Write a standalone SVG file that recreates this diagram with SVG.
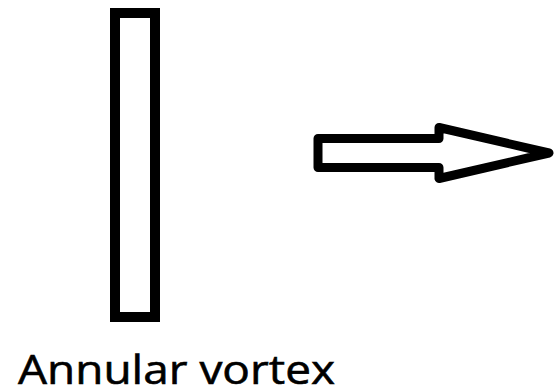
<svg xmlns="http://www.w3.org/2000/svg" width="556" height="391" viewBox="0 0 556 391">
<style>
.sh{fill:#fff;stroke:#000;stroke-width:10;stroke-linejoin:round}
.lbl{font-family:"Open Sans","Liberation Sans",sans-serif;font-size:41px;fill:#000;stroke:#000;stroke-width:0.6}
</style>
<rect width="556" height="391" fill="#fff"/>
<g id="vortex">
<rect class="sh" x="115" y="13" width="40" height="304" style="stroke-linejoin:miter"/>
</g>
<g id="connectors">
<polygon class="sh" style="stroke-width:9" points="318,138.5 439,138.5 439,127.5 549,153 439,178.5 439,167.5 318,167.5"/>
</g>
<g id="label">
<text class="lbl" x="18" y="384" textLength="317" lengthAdjust="spacingAndGlyphs">Annular vortex</text>
</g>
</svg>
